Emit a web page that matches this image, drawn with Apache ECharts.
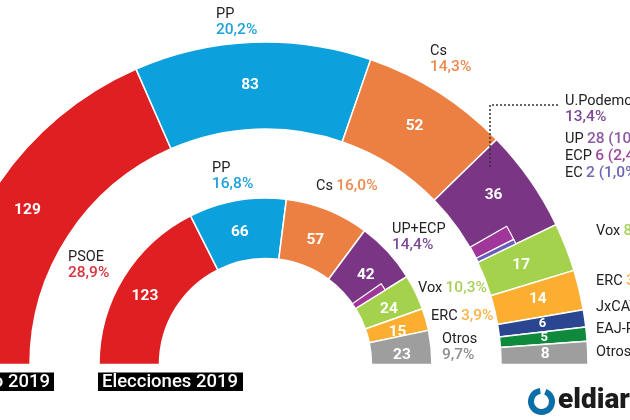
<!DOCTYPE html>
<html>
<head>
<meta charset="utf-8">
<title>Parlamento</title>
<script src="https://cdn.jsdelivr.net/npm/echarts@6/dist/echarts.min.js"></script>
<style>
html,body{margin:0;padding:0;background:#fff;overflow:hidden}
#main{width:630px;height:420px}
</style>
</head>
<body>
<div id="main"></div>
<script>
// seats, big arch (sondeo)
var partiesSondeo = ['PSOE', 'PP', 'Cs', 'U.Podemos', 'Vox', 'ERC', 'JxCAT', 'EAJ-PNV', 'Otros'];
var seatsSondeo = [129, 83, 52, 36, 17, 14, 6, 5, 8];
var colorsSondeo = ['#e01f22', '#0ca0dc', '#ec8043', '#7a3584', '#a5d24d', '#fbae2f', '#2a4690', '#0f8a3c', '#9e9e9e'];
// confluences inside the purple slice
var detailSondeoNames = ['UP', 'ECP', 'EC'];
var detailSondeoSeats = [28, 6, 2];
var detailSondeoPct = ['10,0%', '2,4%', '1,0%'];

// seats, small arch (elecciones)
var partiesElecciones = ['PSOE', 'PP', 'Cs', 'UP+ECP', 'Vox', 'ERC', 'Otros'];
var seatsElecciones = [123, 66, 57, 42, 24, 15, 23];
var colorsElecciones = ['#e01f22', '#0ca0dc', '#ec8043', '#7a3584', '#a5d24d', '#fbae2f', '#9e9e9e'];
var ecpElecciones = 6;

// vote share labels
var pctSondeo = ['', '20,2%', '14,3%', '13,4%', '8,8%', '3,9%', '1,9%', '1,5%', '2,6%'];
var pctElecciones = ['28,9%', '16,8%', '16,0%', '14,4%', '10,3%', '3,9%', '9,7%'];
var titleSondeo = 'Sondeo 2019';
var titleElecciones = 'Elecciones 2019';

var FONT = 'Roboto';
var CX = 265.5, CY = 364.5;

function sum(a) {
    var t = 0;
    for (var i = 0; i < a.length; i++) t += a[i];
    return t;
}

function archData(names, seats, colors, nudges) {
    var out = [];
    for (var i = 0; i < seats.length; i++) {
        var item = {name: names[i], value: seats[i], itemStyle: {color: colors[i]}};
        if (nudges[i]) item.label = nudges[i];
        out.push(item);
    }
    return out;
}

function arch(names, seats, colors, radius, offset, nudges) {
    return {
        type: 'pie',
        center: [CX, CY],
        radius: radius,
        startAngle: 180,
        endAngle: 0,
        clockwise: true,
        silent: true,
        animation: false,
        avoidLabelOverlap: false,
        itemStyle: {borderColor: '#fff', borderWidth: 1.5},
        label: {
            show: true,
            position: 'inside',
            formatter: '{c}',
            color: '#fff',
            fontFamily: FONT,
            fontWeight: 'bold',
            fontSize: 15.5,
            offset: offset
        },
        labelLine: {show: false},
        data: archData(names, seats, colors, nudges)
    };
}

// small strips on top of the purple slice, the rest of the ring is invisible
function strips(before, values, colors, after, radius) {
    var data = [{value: before, itemStyle: {color: 'transparent', borderWidth: 0}}];
    for (var i = 0; i < values.length; i++) {
        data.push({value: values[i], itemStyle: {color: colors[i]}});
    }
    data.push({value: after, itemStyle: {color: 'transparent', borderWidth: 0}});
    return {
        type: 'pie',
        center: [CX, CY],
        radius: radius,
        startAngle: 180,
        endAngle: 0,
        clockwise: true,
        silent: true,
        animation: false,
        z: 3,
        itemStyle: {borderColor: '#fff', borderWidth: 1.2},
        label: {show: false},
        labelLine: {show: false},
        data: data
    };
}

var beforeUp = seatsSondeo[0] + seatsSondeo[1] + seatsSondeo[2] + detailSondeoSeats[0];
var afterUp = sum(seatsSondeo) - beforeUp - detailSondeoSeats[1] - detailSondeoSeats[2];
var beforeEcp = seatsElecciones[0] + seatsElecciones[1] + seatsElecciones[2] + seatsElecciones[3] - ecpElecciones;
var afterEcp = sum(seatsElecciones) - beforeEcp - ecpElecciones;

function label(x, y, name, pct, color) {
    return {
        type: 'text', x: x, y: y, z: 10, silent: true,
        style: {
            rich: {
                n: {fill: '#222', fontFamily: FONT, fontSize: 14.5},
                p: {fill: color, fontFamily: FONT, fontSize: 15.5, fontWeight: 500}
            },
            text: '{n|' + name + '} {p|' + pct + '}',
            verticalAlign: 'middle'
        }
    };
}

// name on one line, percentage under it
function label2(x, y, name, pct, color) {
    return {
        type: 'group', silent: true, z: 10,
        children: [
            {type: 'text', x: x, y: y, style: {text: name, fill: '#222', fontFamily: FONT, fontSize: 14.5, verticalAlign: 'middle'}},
            {type: 'text', x: x, y: y + 16, style: {text: pct, fill: color, fontFamily: FONT, fontSize: 15.5, fontWeight: 500, verticalAlign: 'middle'}}
        ]
    };
}

var PURPLE_TXT = '#7d4a97';
var GREY_TXT = '#8f8f8f';
var BLUE_TXT = '#1ea2d9';
var ORANGE_TXT = '#ec8a4f';
var GREEN_TXT = '#a9d05a';
var YELLOW_TXT = '#f8b44a';
var RED_TXT = '#d5343c';

var graphics = [
    label2(216, 14, partiesSondeo[1], pctSondeo[1], BLUE_TXT),
    label2(430, 51, partiesSondeo[2], pctSondeo[2], ORANGE_TXT),
    label2(565, 101, partiesSondeo[3], pctSondeo[3], PURPLE_TXT),
    label(565, 139, detailSondeoNames[0], detailSondeoSeats[0] + ' (' + detailSondeoPct[0] + ')', '#8d5aa5'),
    label(565, 156, detailSondeoNames[1], detailSondeoSeats[1] + ' (' + detailSondeoPct[1] + ')', '#a0479e'),
    label(565, 173, detailSondeoNames[2], detailSondeoSeats[2] + ' (' + detailSondeoPct[2] + ')', '#6f68b5'),
    label(596, 231, partiesSondeo[4], pctSondeo[4], GREEN_TXT),
    label(596, 281, partiesSondeo[5], pctSondeo[5], YELLOW_TXT),
    label(596, 307, partiesSondeo[6], pctSondeo[6], '#2a4690'),
    label(596, 329, partiesSondeo[7], pctSondeo[7], '#0f8a3c'),
    label(596, 352, partiesSondeo[8], pctSondeo[8], GREY_TXT),

    label2(68, 257, partiesElecciones[0], pctElecciones[0], RED_TXT),
    label2(212, 168, partiesElecciones[1], pctElecciones[1], BLUE_TXT),
    label(316, 186, partiesElecciones[2], pctElecciones[2], ORANGE_TXT),
    label2(392, 229, partiesElecciones[3], pctElecciones[3], PURPLE_TXT),
    label(418, 288, partiesElecciones[4], pctElecciones[4], GREEN_TXT),
    label(431, 316, partiesElecciones[5], pctElecciones[5], YELLOW_TXT),
    label2(442, 339, partiesElecciones[6], pctElecciones[6], GREY_TXT),

    // leader line for U.Podemos
    {type: 'polyline', silent: true, z: 9,
        shape: {points: [[558, 105], [490, 105], [490, 167]]},
        style: {stroke: '#333', lineWidth: 1.5, lineDash: [2, 2], fill: null}},

    // year tags
    {type: 'rect', silent: true, z: 8, shape: {x: -60, y: 372.5, width: 114, height: 18.5}, style: {fill: '#000'}},
    {type: 'text', silent: true, z: 9, x: 50, y: 382,
        style: {text: titleSondeo, fill: '#fff', fontFamily: FONT, fontSize: 18.5, fontWeight: 500, align: 'right', verticalAlign: 'middle'}},
    {type: 'rect', silent: true, z: 8, shape: {x: 98, y: 372.5, width: 145, height: 18.5}, style: {fill: '#000'}},
    {type: 'text', silent: true, z: 9, x: 102, y: 382,
        style: {text: titleElecciones, fill: '#fff', fontFamily: FONT, fontSize: 18.5, fontWeight: 500, verticalAlign: 'middle'}},

    // logo
    {type: 'arc', silent: true, z: 8,
        shape: {cx: 541.5, cy: 401.5, r: 10.5, startAngle: -1.2, endAngle: 4.6},
        style: {stroke: '#0a6ea8', lineWidth: 6, fill: null}},
    {type: 'text', silent: true, z: 8, x: 558, y: 401,
        style: {text: 'eldiario.es', fill: '#1c1c1c', fontFamily: FONT, fontSize: 28, fontWeight: 900, verticalAlign: 'middle'}}
];

// the thin slices need a tighter label box, a few numbers sit off the middle of their slice
var nudgesSondeo = {
    1: {offset: [-4, 2]},
    3: {offset: [-3, -8]},
    4: {offset: [-7, 3]},
    6: {fontSize: 13, lineHeight: 10},
    7: {fontSize: 13, lineHeight: 10}
};

var myChart = echarts.init(document.getElementById('main'));
var option = {
    backgroundColor: '#fff',
    animation: false,
    tooltip: {show: false},
    series: [
        arch(partiesSondeo, seatsSondeo, colorsSondeo, [235.5, 322.5], [-2, 0], nudgesSondeo),
        arch(partiesElecciones, seatsElecciones, colorsElecciones, [106, 166.5], [-2, 5], {}),
        strips(beforeUp, [detailSondeoSeats[1], detailSondeoSeats[2]], ['#a0359a', '#6a5cb8'], afterUp, [236, 278]),
        strips(beforeEcp, [ecpElecciones], ['#a0359a'], afterEcp, [106, 141])
    ],
    graphic: graphics
};
myChart.setOption(option);
</script>
</body>
</html>
